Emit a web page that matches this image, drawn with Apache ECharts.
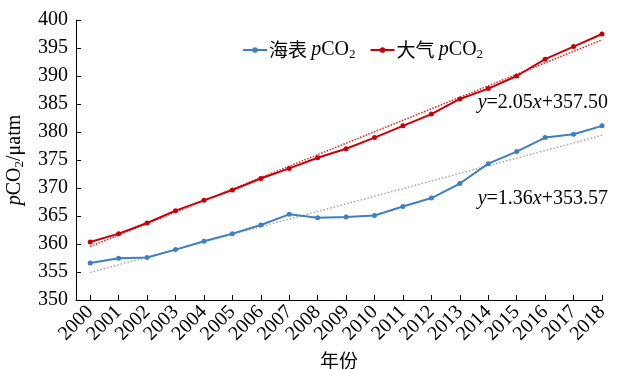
<!DOCTYPE html>
<html>
<head>
<meta charset="utf-8">
<script src="https://cdn.jsdelivr.net/npm/echarts@6/dist/echarts.min.js"></script>
<style>
  html, body { margin: 0; padding: 0; background: #fff; }
  #chart { width: 618px; height: 369px; }
</style>
</head>
<body>
<div id="chart"></div>
<script>
// Years on the horizontal axis
const years = [2000, 2001, 2002, 2003, 2004, 2005, 2006, 2007, 2008, 2009,
               2010, 2011, 2012, 2013, 2014, 2015, 2016, 2017, 2018];
// Sea-surface pCO2 (µatm)
const seaPco2 = [356.6, 357.45, 357.6, 359.0, 360.5, 361.85, 363.4, 365.3, 364.7, 364.8,
                 365.1, 366.7, 368.2, 370.8, 374.35, 376.5, 379.0, 379.6, 381.1];
// Atmospheric pCO2 (µatm)
const airPco2 = [360.35, 361.85, 363.75, 365.95, 367.8, 369.65, 371.7, 373.5, 375.4, 377.0,
                 379.0, 381.1, 383.2, 385.9, 387.75, 390.0, 393.0, 395.25, 397.5];
// Linear fits y = a*x + b, x = 1 for the first year
const airFit = [2.05, 357.50];
const seaFit = [1.36, 353.57];
// Y axis ticks
const yTicks = [350, 400, 5];

const FONT = "'Liberation Serif', 'Times New Roman', 'Noto Sans CJK SC', serif";
const CJK = "'Noto Sans CJK SC', sans-serif";

function fitLine(fit) {
  const n = years.length;
  return [
    [years[0], fit[0] * 1 + fit[1]],
    [years[n - 1], fit[0] * n + fit[1]]
  ];
}

const chart = echarts.init(document.getElementById('chart'), null, { renderer: 'canvas' });

const rich = {
  cn: { fontFamily: CJK, fontSize: 19, color: '#000' },
  it: { fontFamily: FONT, fontSize: 20, fontStyle: 'italic', color: '#000' },
  rm: { fontFamily: FONT, fontSize: 20, color: '#000' },
  sub: { fontFamily: FONT, fontSize: 13, color: '#000', verticalAlign: 'bottom', padding: [9, 0, 0, 0] }
};

chart.setOption({
  animation: false,
  backgroundColor: '#fff',
  grid: { left: 76, right: 16, top: 20, bottom: 69, outerBoundsMode: 'none', containLabel: false },
  legend: {
    left: 237, top: 35,
    itemWidth: 24, itemHeight: 7, itemGap: 14,
    data: ['sea', 'air'],
    formatter: function (name) {
      return name === 'sea'
        ? '{cn|海表 }{it|p}{rm|CO}{sub|2}'
        : '{cn|大气 }{it|p}{rm|CO}{sub|2}';
    },
    textStyle: { rich: rich, padding: [0, 0, 0, -3] }
  },
  xAxis: {
    type: 'value',
    min: years[0] - 0.5,
    max: years[years.length - 1],
    splitLine: { show: false },
    axisLine: { show: true, lineStyle: { color: '#000', width: 1 } },
    axisTick: { show: true, inside: true, customValues: years, length: 5, lineStyle: { color: '#000' } },
    axisLabel: {
      customValues: years, rotate: 45, margin: 9,
      fontFamily: FONT, fontSize: 20, color: '#000',
      formatter: v => String(v)
    },
    name: '年份',
    nameLocation: 'middle',
    nameGap: 45,
    nameTextStyle: { fontFamily: CJK, fontSize: 19, color: '#000' }
  },
  yAxis: {
    type: 'value',
    min: yTicks[0], max: yTicks[1], interval: yTicks[2],
    splitLine: { show: false },
    axisLine: { show: true, lineStyle: { color: '#000', width: 1 } },
    axisTick: { show: true, inside: true, length: 5, lineStyle: { color: '#000' } },
    axisLabel: { fontFamily: FONT, fontSize: 20, color: '#000', margin: 8 },
    name: '{it|p}{rm|CO}{sub|2}{rm|/μatm}',
    nameLocation: 'middle',
    nameRotate: 90,
    nameGap: 50,
    nameTextStyle: { rich: rich }
  },
  series: [
    {
      name: 'seaFit', type: 'line', data: fitLine(seaFit),
      symbol: 'none', silent: true,
      lineStyle: { color: '#a6a6a6', width: 1.5, type: [1.5, 2] },
      z: 1
    },
    {
      name: 'airFit', type: 'line', data: fitLine(airFit),
      symbol: 'none', silent: true,
      lineStyle: { color: '#e0201a', width: 1.5, type: [1.5, 1.5] },
      z: 1
    },
    {
      name: 'sea', type: 'line',
      data: years.map((y, i) => [y, seaPco2[i]]),
      symbol: 'circle', symbolSize: 5,
      itemStyle: { color: '#3d7fc4' },
      lineStyle: { color: '#3d7fc4', width: 2 },
      z: 3
    },
    {
      name: 'air', type: 'line',
      data: years.map((y, i) => [y, airPco2[i]]),
      symbol: 'circle', symbolSize: 5,
      itemStyle: { color: '#c8000a' },
      lineStyle: { color: '#c8000a', width: 2 },
      z: 3
    }
  ],
  graphic: [
    {
      type: 'text', right: 10, top: 93,
      style: {
        text: '{it|y}{rm|=2.05}{it|x}{rm|+357.50}',
        rich: rich
      }
    },
    {
      type: 'text', right: 10, top: 189,
      style: {
        text: '{it|y}{rm|=1.36}{it|x}{rm|+353.57}',
        rich: rich
      }
    }
  ]
});
</script>
</body>
</html>
